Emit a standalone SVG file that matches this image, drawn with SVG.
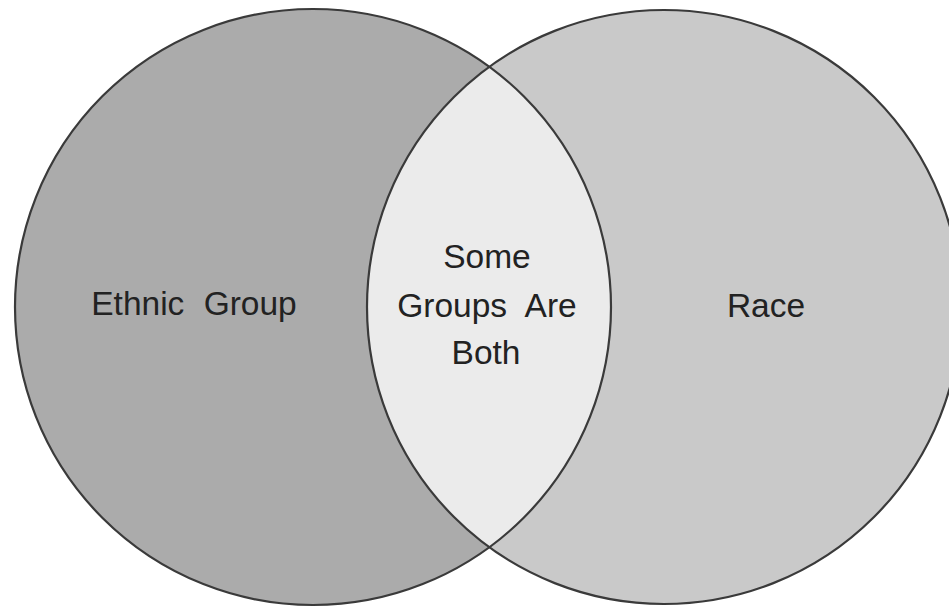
<svg xmlns="http://www.w3.org/2000/svg" width="949" height="609" viewBox="0 0 949 609">
  <style>
    .lbl { font-family: "Liberation Sans", Arial, sans-serif; font-size: 33.5px; fill: #222; text-anchor: middle; word-spacing: 10px; }
    .ring { fill: none; stroke: #3a3a3a; stroke-width: 2.2; }
  </style>
  <defs>
    <clipPath id="clipLeft">
      <circle cx="313" cy="307" r="298"/>
    </clipPath>
  </defs>
  <rect x="0" y="0" width="949" height="609" fill="#ffffff"/>
  <g id="race">
    <circle cx="664" cy="307" r="297" fill="#c9c9c9"/>
  </g>
  <g id="ethnic-group">
    <circle cx="313" cy="307" r="298" fill="#ababab"/>
  </g>
  <g id="overlap">
    <circle cx="664" cy="307" r="297" fill="#ebebeb" clip-path="url(#clipLeft)"/>
  </g>
  <g id="outlines">
    <circle class="ring" cx="313" cy="307" r="298"/>
    <circle class="ring" cx="664" cy="307" r="297"/>
  </g>
  <g id="labels">
    <text class="lbl" x="194" y="315">Ethnic Group</text>
    <text class="lbl" x="487" y="268">Some</text>
    <text class="lbl" x="487" y="317">Groups Are</text>
    <text class="lbl" x="486" y="364">Both</text>
    <text class="lbl" x="766" y="317">Race</text>
  </g>
</svg>
